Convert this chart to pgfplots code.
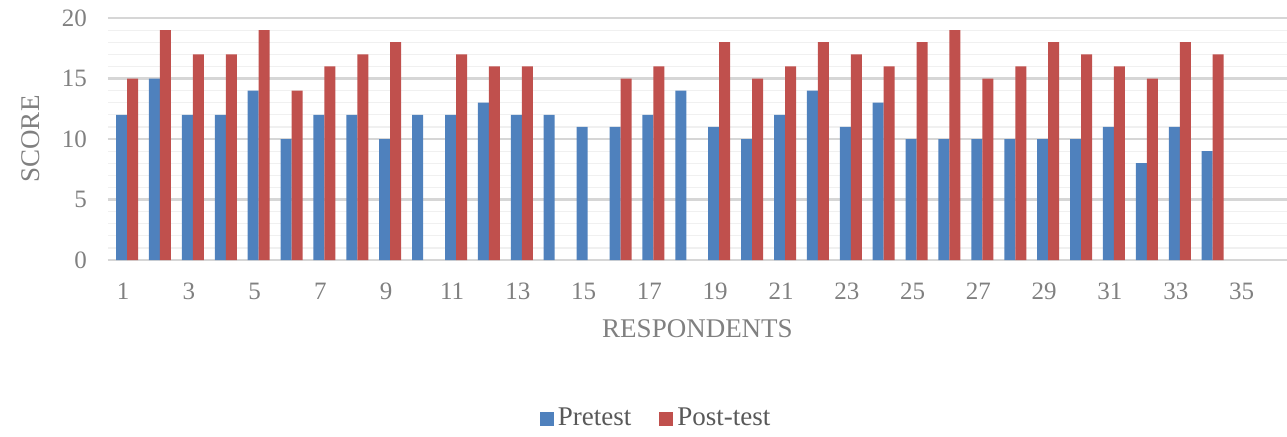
\documentclass[border=0pt]{standalone}
\usepackage{pgfplots}
\pgfplotsset{compat=1.18}
\usepackage{fontspec}
\setmainfont{Liberation Serif}
\definecolor{preblue}{HTML}{4F81BD}
\definecolor{postred}{HTML}{C0504D}
\definecolor{txtgray}{HTML}{808080}
\definecolor{leggray}{HTML}{595959}
\begin{document}
\begin{tikzpicture}
\useasboundingbox (-54pt,-88pt) rectangle (589.5pt,130pt);
\begin{axis}[
  at={(0pt,0pt)}, anchor=origin,
  scale only axis,
  width=589.5pt, height=121pt,
  ybar, bar width=5.5pt,
  xmin=0.42, xmax=36.26,
  ymin=0, ymax=20,
  xtick={1,3,...,35},
  ytick={0,5,...,20},
  minor ytick={1,2,3,4,6,7,8,9,11,12,13,14,16,17,18,19},
  ymajorgrids, yminorgrids,
  major grid style={draw=black!16, line width=1.2pt},
  minor grid style={draw=black!6, line width=0.6pt},
  axis line style={draw=none},
  major tick length=0pt, minor tick length=0pt,
  tick label style={font=\fontsize{12.5}{14}\selectfont, text=txtgray},
  /pgf/number format/assume math mode=true,
  xticklabel style={yshift=-8pt, xshift=-2pt},
  yticklabel style={xshift=-7pt},
  xlabel={RESPONDENTS},
  ylabel={SCORE},
  label style={font=\fontsize{13.5}{15}\selectfont, text=txtgray},
  xlabel style={yshift=-3pt},
  ylabel style={yshift=4pt},
  legend style={at={(0.4657,-0.655)}, anchor=center, draw=none, fill=none,
    legend columns=2, font=\fontsize{13.5}{15}\selectfont, text=leggray,
    /tikz/every even column/.append style={column sep=12pt}},
  legend image code/.code={\fill[#1] (0pt,-3.5pt) rectangle (7pt,3.5pt);},
]
\addplot[fill=preblue, draw=none, bar shift=-2.75pt] coordinates {
(1,12) (2,15) (3,12) (4,12) (5,14) (6,10) (7,12) (8,12) (9,10) (10,12)
(11,12) (12,13) (13,12) (14,12) (15,11) (16,11) (17,12) (18,14) (19,11) (20,10)
(21,12) (22,14) (23,11) (24,13) (25,10) (26,10) (27,10) (28,10) (29,10) (30,10)
(31,11) (32,8) (33,11) (34,9)
};
\addplot[fill=postred, draw=none, bar shift=2.75pt] coordinates {
(1,15) (2,19) (3,17) (4,17) (5,19) (6,14) (7,16) (8,17) (9,18)
(11,17) (12,16) (13,16) (16,15) (17,16) (19,18) (20,15)
(21,16) (22,18) (23,17) (24,16) (25,18) (26,19) (27,15) (28,16) (29,18) (30,17)
(31,16) (32,15) (33,18) (34,17)
};
\legend{Pretest, Post-test}
\end{axis}
\end{tikzpicture}
\end{document}
